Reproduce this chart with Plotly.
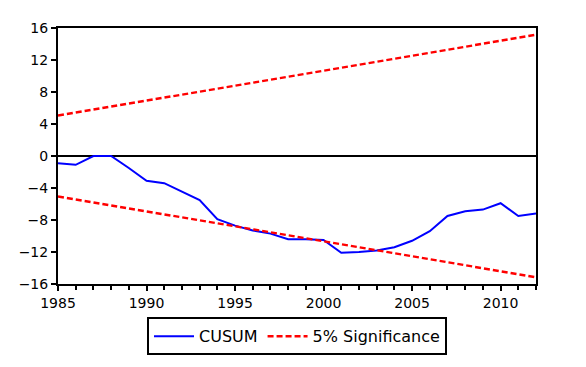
import plotly.graph_objects as go

years = list(range(1985, 2013))
cusum = [-0.9, -1.1, 0.0, 0.0, -1.5, -3.1, -3.4, -4.4, -5.5, -7.9, -8.7, -9.3, -9.7, -10.4,
         -10.4, -10.5, -12.1, -12.0, -11.8, -11.4, -10.6, -9.4, -7.5, -6.9, -6.7, -5.9, -7.5, -7.2]
upper = [5.05, 5.42, 5.80, 6.17, 6.55, 6.92, 7.29, 7.67, 8.04, 8.42, 8.79, 9.16, 9.54, 9.91,
         10.29, 10.66, 11.03, 11.41, 11.78, 12.16, 12.53, 12.90, 13.28, 13.65, 14.03, 14.40, 14.77, 15.15]
lower = [-5.05, -5.42, -5.80, -6.17, -6.55, -6.92, -7.29, -7.67, -8.04, -8.42, -8.79, -9.16, -9.54, -9.91,
         -10.29, -10.66, -11.03, -11.41, -11.78, -12.16, -12.53, -12.90, -13.28, -13.65, -14.03, -14.40, -14.77, -15.15]
y_ticks = [-16, -12, -8, -4, 0, 4, 8, 12, 16]
x_ticks = [1985, 1990, 1995, 2000, 2005, 2010]

font = "DejaVu Sans, Liberation Sans, Arial, sans-serif"

fig = go.Figure()
fig.add_trace(go.Scatter(x=years, y=cusum, mode="lines", name="CUSUM",
                         line=dict(color="#0000FF", width=2)))
fig.add_trace(go.Scatter(x=years, y=upper, mode="lines", name="5% Significance",
                         line=dict(color="#FF0000", width=2.5, dash="6px,3px")))
fig.add_trace(go.Scatter(x=years, y=lower, mode="lines", name="5% Significance",
                         showlegend=False,
                         line=dict(color="#FF0000", width=2.5, dash="6px,3px")))

fig.update_layout(
    width=578, height=359,
    margin=dict(l=50, r=50, t=20, b=83, pad=0),
    paper_bgcolor="white", plot_bgcolor="white",
    font=dict(family=font, size=14, color="black"),
    showlegend=True,
    legend=dict(orientation="h", x=0.5, xanchor="center", y=-0.13, yanchor="top",
                bordercolor="black", borderwidth=2, bgcolor="white",
                font=dict(family=font, size=16, color="black"),
                itemwidth=40, tracegroupgap=0),
)
fig.update_xaxes(range=[1985, 2012], tickmode="array", tickvals=x_ticks,
                 showline=True, linecolor="black", linewidth=2, mirror=True,
                 ticks="outside", ticklen=5, tickwidth=1.5, tickcolor="black",
                 minor=dict(dtick=1, tick0=1985, ticks="outside", ticklen=4,
                            tickwidth=1.5, tickcolor="black", showgrid=False),
                 showgrid=False, zeroline=False)
fig.update_yaxes(range=[-16, 16], tickmode="array", tickvals=y_ticks,
                 showline=True, linecolor="black", linewidth=2, mirror=True,
                 ticks="outside", ticklen=5, tickwidth=1.5, tickcolor="black",
                 showgrid=False, zeroline=True, zerolinecolor="black", zerolinewidth=2)

fig.write_html("out.html")
